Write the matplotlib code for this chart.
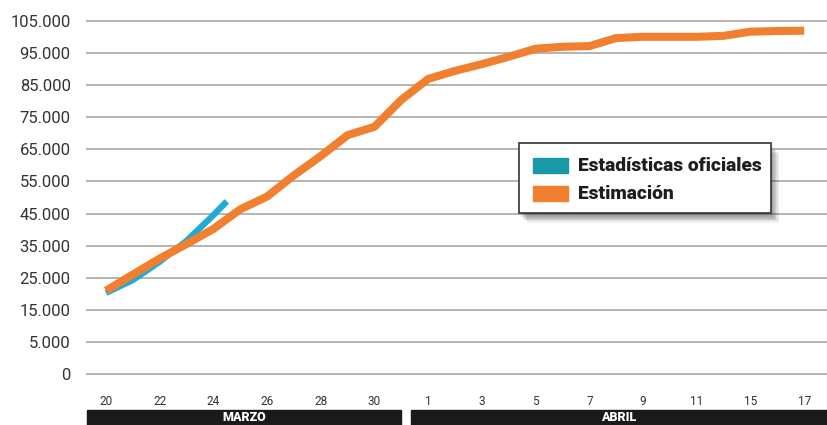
import numpy as np
import matplotlib.pyplot as plt
from matplotlib.patches import Rectangle
from matplotlib.transforms import blended_transform_factory

# day index 0 = 20 de marzo
dias_estim = list(range(27))
estimacion = [21000, 26000, 31000, 35500, 40200, 46300, 50300, 56900, 62900, 69400,
              72000, 80400, 86900, 89400, 91500, 93800, 96300, 96900, 97100, 99600,
              100000, 100000, 100000, 100300, 101600, 101800, 101900]

dias_ofic = [0, 1, 2, 3, 4, 4.5]
oficiales = [20300, 24300, 30000, 36500, 44500, 48800]

xtick_pos = list(range(0, 27, 2))
xtick_lab = ['20', '22', '24', '26', '28', '30', '1', '3', '5', '7', '9', '11', '15', '17']

ytick_pos = [-5000] + list(range(5000, 105001, 10000))
ytick_lab = ['0'] + ['{:,}'.format(v).replace(',', '.') for v in range(5000, 105001, 10000)]

naranja = '#F07F2F'
azul = '#1FAADB'
teal = '#1799A8'

W, H = 827, 425
fig = plt.figure(figsize=(W / 100, H / 100), dpi=100)
fig.patch.set_facecolor('white')

# axes placed in pixel terms
x0, x1 = 86, 827
ytop, ybot = 11.1, 383.8
ax = fig.add_axes([x0 / W, 1 - ybot / H, (x1 - x0) / W, (ybot - ytop) / H])
ax.set_xlim(-0.745, 26.85)
ax.set_ylim(-8000, 108000)

for v in ytick_pos:
    ax.axhline(v, color='#a0a0a0', lw=1.1, zorder=1)

ax.plot(dias_ofic, oficiales, color=azul, lw=4.5, solid_capstyle='butt', zorder=2)
ax.plot(dias_estim, estimacion, color=naranja, lw=5.8, solid_capstyle='butt',
        solid_joinstyle='round', zorder=3)

for s in ax.spines.values():
    s.set_visible(False)
ax.set_yticks(ytick_pos)
ax.set_yticklabels(ytick_lab, fontsize=12, color='#333333', family='Roboto')
ax.set_xticks(xtick_pos)
ax.set_xticklabels(xtick_lab, fontsize=8.5, color='#333333', family='Roboto')
ax.tick_params(axis='y', length=0, pad=11)
ax.tick_params(axis='x', length=0, pad=8)

# month bars
tr = blended_transform_factory(ax.transData, fig.transFigure)
bar_y0 = 0.0
bar_h = 15.5 / H
meses = [('MARZO', -0.71, 10.99), ('ABRIL', 11.36, 27.5)]
for nombre, a, b in meses:
    ax.add_patch(Rectangle((a, bar_y0), b - a, bar_h, transform=tr, color='#1a1a1a',
                           clip_on=False, zorder=5))
    cx = (a + min(b, 26.85)) / 2
    ax.text(cx, bar_y0 + bar_h / 2, nombre, transform=tr, color='white', fontsize=9,
            fontweight='heavy', family='Roboto', ha='center', va='center', zorder=6)


def px(x, y, w, h):
    return (x / W, 1 - (y + h) / H), w / W, h / H


# legend box with soft shadow
lx, ly, lw_, lh = 519, 143, 252, 70
for k, al in enumerate([0.10, 0.09, 0.08, 0.07, 0.06]):
    off = 2 + k * 1.5
    xy, w, h = px(lx + off, ly + off + 2, lw_, lh)
    fig.patches.append(Rectangle(xy, w, h, transform=fig.transFigure, color='black',
                                 alpha=al, zorder=7, lw=0))
xy, w, h = px(lx, ly, lw_, lh)
fig.patches.append(Rectangle(xy, w, h, transform=fig.transFigure, facecolor='white',
                             edgecolor='#333333', lw=1.2, zorder=8))
for (py, col, txt) in [(158, teal, 'Estadísticas oficiales'), (186, naranja, 'Estimación')]:
    xy, w, h = px(533, py, 35, 15)
    fig.patches.append(Rectangle(xy, w, h, transform=fig.transFigure, color=col, zorder=9))
    fig.text(578 / W, 1 - (py + 8) / H, txt, fontsize=13.8, fontweight='heavy',
             family='Roboto', color='#1e1e1e', va='center', ha='left', zorder=10)

fig.savefig('out.png', dpi=100, facecolor='white')
